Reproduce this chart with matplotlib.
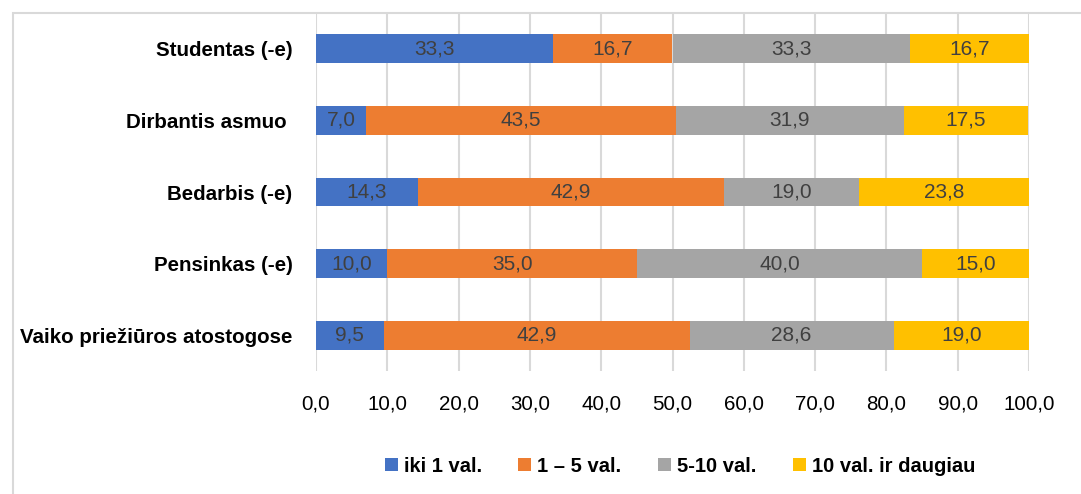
import matplotlib.pyplot as plt
from matplotlib.patches import Rectangle

plt.rcParams['font.family'] = ['Liberation Sans', 'DejaVu Sans']

categories = ['Studentas (-e)', 'Dirbantis asmuo ', 'Bedarbis (-e)', 'Pensinkas (-e)', 'Vaiko priežiūros atostogose']
series_names = ['iki 1 val.', '1 – 5 val.', '5-10 val.', '10 val. ir daugiau']
iki1 = [33.3, 7.0, 14.3, 10.0, 9.5]
nuo1iki5 = [16.7, 43.5, 42.9, 35.0, 42.9]
nuo5iki10 = [33.3, 31.9, 19.0, 40.0, 28.6]
daugiau10 = [16.7, 17.5, 23.8, 15.0, 19.0]
colors = ['#4472C4', '#ED7D31', '#A5A5A5', '#FFC000']
xticks = [0, 10, 20, 30, 40, 50, 60, 70, 80, 90, 100]

fig = plt.figure(figsize=(10.81, 4.94), dpi=100)
ax = fig.add_axes([316 / 1081, 1 - 371 / 494, 713 / 1081, 358 / 494])

# chart frame (light grey border, like the Excel chart area)
fig.patches.append(Rectangle((13 / 1081, -0.1), 1.2, 1.1 - 13 / 494,
                             transform=fig.transFigure, fill=False,
                             edgecolor='#D9D9D9', linewidth=1.5))

ypos = list(range(len(categories)))
left = [0] * len(categories)
handles = []
for name, vals, col in zip(series_names, [iki1, nuo1iki5, nuo5iki10, daugiau10], colors):
    bars = ax.barh(ypos, vals, left=left, height=0.4, color=col, label=name, zorder=3)
    handles.append(bars)
    for y, v, l in zip(ypos, vals, left):
        ax.text(l + v / 2, y, f'{v:.1f}'.replace('.', ','), ha='center', va='center',
                color='#404040', fontsize=15, zorder=4)
    left = [a + b for a, b in zip(left, vals)]

ax.set_ylim(len(categories) - 0.5, -0.5)
ax.set_xlim(0, 100)
ax.set_yticks(ypos)
ax.set_yticklabels(categories, fontweight='bold', fontsize=14.8)
ax.set_xticks(xticks)
ax.set_xticklabels([f'{t:.1f}'.replace('.', ',') for t in xticks], fontsize=14.8)
ax.tick_params(axis='both', length=0)
ax.tick_params(axis='y', pad=17)
ax.tick_params(axis='x', pad=17)
ax.grid(axis='x', color='#D9D9D9', linewidth=1.5, zorder=0)
for s in ax.spines.values():
    s.set_visible(False)

fig.legend(handles=handles, labels=series_names, loc='center', ncol=4,
           bbox_to_anchor=(0.629, 1 - 466 / 494), frameon=False,
           prop={'weight': 'bold', 'size': 14.5}, handlelength=0.65, handleheight=0.65,
           handletextpad=0.3, columnspacing=1.8)

fig.savefig('out.png', dpi=100)
